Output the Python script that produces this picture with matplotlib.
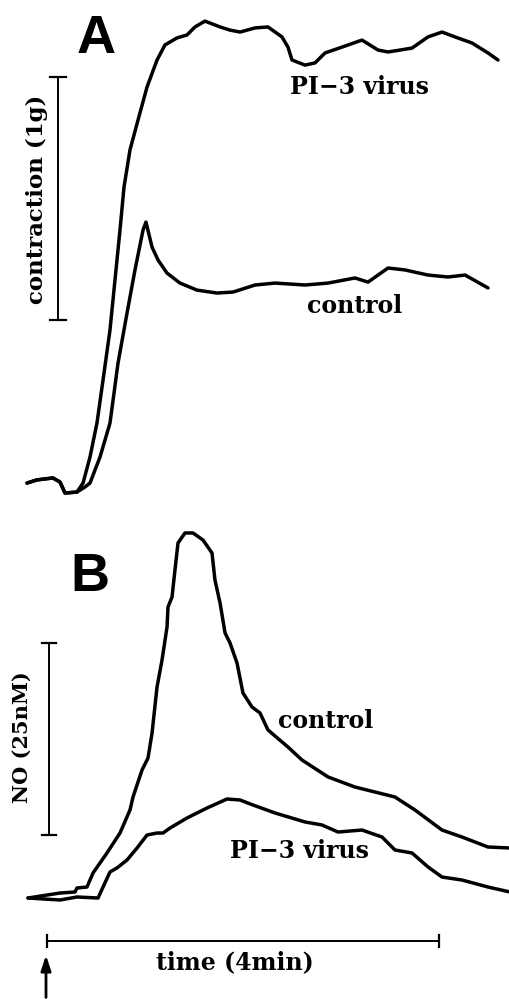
import matplotlib.pyplot as plt

# time axis in minutes (0 = stimulus, arrow)
# Panel A: contraction in g above resting tone
t_a_pi3 = [-0.194, -0.092, 0.071, 0.143, 0.194, 0.316, 0.378, 0.449, 0.520, 0.582, 0.653,
           0.704, 0.755, 0.796, 0.857, 0.939, 1.031, 1.133, 1.214, 1.337, 1.439, 1.520,
           1.622, 1.776, 1.878, 1.980, 2.133, 2.265, 2.408, 2.469, 2.510, 2.643, 2.745,
           2.847, 3.020, 3.224, 3.388, 3.490, 3.735, 3.898, 4.041, 4.173, 4.347, 4.510, 4.612]
g_a_pi3 = [0.008, 0.021, 0.029, 0.012, -0.033, -0.029, 0.008, 0.115, 0.255, 0.432, 0.638,
           0.844, 1.049, 1.226, 1.379, 1.502, 1.638, 1.749, 1.811, 1.840, 1.852, 1.885,
           1.909, 1.885, 1.872, 1.864, 1.881, 1.885, 1.844, 1.802, 1.749, 1.728, 1.737,
           1.778, 1.802, 1.831, 1.790, 1.782, 1.798, 1.844, 1.864, 1.844, 1.819, 1.778, 1.749]

t_a_ctrl = [-0.194, -0.092, 0.071, 0.143, 0.194, 0.316, 0.398, 0.449, 0.551, 0.653, 0.735,
            0.827, 0.908, 0.990, 1.020, 1.082, 1.143, 1.235, 1.367, 1.541, 1.745, 1.908,
            2.133, 2.337, 2.643, 2.878, 3.153, 3.286, 3.490, 3.663, 3.898, 4.102, 4.276, 4.510]
g_a_ctrl = [0.008, 0.021, 0.029, 0.012, -0.033, -0.029, -0.008, 0.008, 0.115, 0.255, 0.502,
            0.708, 0.885, 1.049, 1.082, 0.979, 0.926, 0.872, 0.831, 0.802, 0.790, 0.794,
            0.823, 0.831, 0.823, 0.831, 0.852, 0.835, 0.893, 0.885, 0.864, 0.856, 0.864, 0.811]

# Panel B: NO release in nM
t_b_ctrl = [-0.184, 0.143, 0.296, 0.316, 0.418, 0.480, 0.622, 0.755, 0.857, 0.888, 0.980,
            1.041, 1.082, 1.133, 1.184, 1.235, 1.245, 1.286, 1.316, 1.347, 1.418, 1.500,
            1.602, 1.694, 1.724, 1.776, 1.827, 1.878, 1.949, 2.010, 2.102, 2.184, 2.265,
            2.469, 2.612, 2.878, 3.153, 3.561, 3.765, 4.041, 4.245, 4.510, 4.735]
no_b_ctrl = [0.0, 0.65, 0.78, 1.30, 1.43, 3.26, 5.86, 8.46, 11.46, 13.15, 16.67,
             18.23, 21.48, 27.47, 30.99, 35.29, 37.89, 39.19, 42.71, 46.22, 47.53, 47.53,
             46.61, 44.92, 41.41, 38.41, 34.51, 33.20, 30.60, 26.69, 24.87, 24.09, 21.88,
             19.66, 17.97, 15.76, 14.45, 13.15, 11.46, 8.85, 7.94, 6.64, 6.51]

t_b_pi3 = [-0.184, 0.143, 0.316, 0.531, 0.582, 0.653, 0.724, 0.827, 0.929, 1.031, 1.133,
           1.194, 1.265, 1.439, 1.643, 1.847, 1.980, 2.112, 2.337, 2.643, 2.816, 2.980,
           3.224, 3.429, 3.561, 3.735, 3.898, 4.041, 4.245, 4.510, 4.735]
no_b_pi3 = [0.0, -0.26, 0.13, 0.0, 1.43, 3.39, 3.91, 4.95, 6.51, 8.20, 8.46,
            8.46, 9.11, 10.42, 11.72, 12.89, 12.76, 12.11, 11.07, 9.90, 9.51, 8.59,
            8.85, 7.94, 6.25, 5.86, 4.04, 2.73, 2.34, 1.43, 0.78]

# scale bars
bar_g = 1.0       # 1 g
bar_no = 25.0     # 25 nM
bar_t = 4.0       # 4 min

fig = plt.figure(figsize=(5.1, 9.99), dpi=100)
axA = fig.add_axes([0, 0, 1, 1])
axB = fig.add_axes([0, 0, 1, 1])
for ax in (axA, axB):
    ax.set_xlim(-0.4694, 4.7347)
    ax.axis('off')
    ax.patch.set_alpha(0)
axA.set_ylim(-2.1152, 1.9959)
axB.set_ylim(-13.151, 116.927)

lw = 2.5
kw = dict(color='black', lw=lw, solid_joinstyle='round', solid_capstyle='round')
axA.plot(t_a_pi3, g_a_pi3, **kw)
axA.plot(t_a_ctrl, g_a_ctrl, **kw)
axB.plot(t_b_ctrl, no_b_ctrl, **kw)
axB.plot(t_b_pi3, no_b_pi3, **kw)

# vertical scale bar A
xa = 0.1224
axA.plot([xa, xa], [0.679, 0.679 + bar_g], color='black', lw=1.4)
for yy in (0.679, 0.679 + bar_g):
    axA.plot([xa - 0.08, xa + 0.08], [yy, yy], color='black', lw=1.6)

# vertical scale bar B
xb = 0.0306
axB.plot([xb, xb], [8.2, 8.2 + bar_no], color='black', lw=1.4)
for yy in (8.2, 8.2 + bar_no):
    axB.plot([xb - 0.07, xb + 0.07], [yy, yy], color='black', lw=1.6)

# time bar
yt = -5.6
axB.plot([0.01, 0.01 + bar_t], [yt, yt], color='black', lw=1.4)
for xx in (0.01, 0.01 + bar_t):
    axB.plot([xx, xx], [yt - 0.8, yt + 0.8], color='black', lw=1.6)

# stimulus arrow
axB.annotate('', xy=(0.0, -7.1), xytext=(0.0, -13.3),
             arrowprops=dict(arrowstyle='-|>,head_width=0.3,head_length=0.9',
                             color='black', lw=2.0))

def px(x, y):
    return x / 510, 1 - y / 999

lab = dict(family='DejaVu Serif', fontweight='bold', color='black', ha='center', va='center')
big = dict(family='Liberation Sans', fontweight='bold', fontsize=39, color='black',
           ha='center', va='center')

fig.text(*px(96, 39), 'A', **big)
fig.text(*px(90, 577), 'B', **big)

fig.text(*px(359, 87), 'PI\u22123 virus', fontsize=17, **lab)
fig.text(*px(355, 306), 'control', fontsize=17, **lab)
fig.text(*px(326, 721), 'control', fontsize=17, **lab)
fig.text(*px(300, 851), 'PI\u22123 virus', fontsize=17, **lab)
fig.text(*px(235, 962), 'time (4min)', fontsize=17, **lab)
fig.text(*px(37, 199), 'contraction (1g)', fontsize=16.5, rotation=90, **lab)
fig.text(*px(22, 737), 'NO (25nM)', fontsize=15, rotation=90, **lab)

fig.savefig('out.png', dpi=100)
